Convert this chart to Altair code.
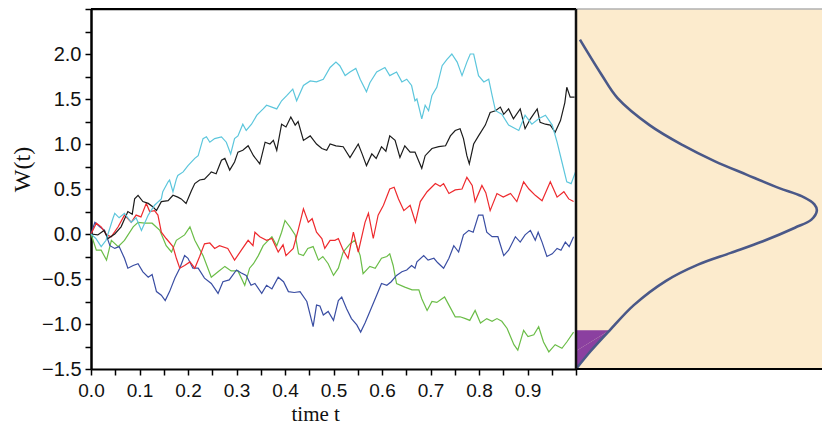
import altair as alt
import pandas as pd

# ---------------- data ----------------
t_cyan = [0, 0.010, 0.021, 0.031, 0.045, 0.049, 0.058, 0.069, 0.083, 0.093, 0.104, 0.118, 0.131, 0.145, 0.148,
          0.159, 0.162, 0.169, 0.176, 0.179, 0.190, 0.200, 0.214, 0.221, 0.231, 0.238, 0.245, 0.255, 0.269, 0.279,
          0.288, 0.296, 0.303, 0.313, 0.320, 0.331, 0.342, 0.355, 0.362, 0.383, 0.393, 0.404, 0.416, 0.424, 0.438,
          0.452, 0.465, 0.479, 0.493, 0.505, 0.513, 0.524, 0.534, 0.546, 0.555, 0.568, 0.575, 0.589, 0.606, 0.616,
          0.630, 0.641, 0.651, 0.661, 0.668, 0.672, 0.682, 0.689, 0.696, 0.703, 0.713, 0.724, 0.734, 0.744, 0.755,
          0.765, 0.775, 0.782, 0.789, 0.799, 0.810, 0.820, 0.827, 0.834, 0.847, 0.861, 0.882, 0.895, 0.909, 0.923,
          0.937, 0.951, 0.961, 0.971, 0.981, 0.990, 0.999]
w_cyan = [0, -0.05, -0.14, -0.07, 0.17, 0.23, 0.18, 0.23, 0.13, 0.18, 0.04, 0.21, 0.32, 0.39, 0.47,
          0.58, 0.60, 0.47, 0.61, 0.65, 0.69, 0.76, 0.84, 0.87, 1.06, 1.08, 1.02, 1.06, 1.08, 1.02,
          0.89, 1.06, 1.09, 1.22, 1.15, 1.22, 1.32, 1.39, 1.43, 1.39, 1.48, 1.54, 1.61, 1.48, 1.65,
          1.70, 1.69, 1.72, 1.85, 1.91, 1.87, 1.76, 1.80, 1.84, 1.72, 1.58, 1.68, 1.80, 1.85, 1.76,
          1.80, 1.69, 1.72, 1.65, 1.48, 1.50, 1.28, 1.43, 1.37, 1.54, 1.63, 1.87, 1.94, 2.00, 1.91,
          1.76, 1.91, 2.00, 2.00, 1.76, 1.69, 1.72, 1.54, 1.37, 1.33, 1.21, 1.15, 1.32, 1.22, 1.28,
          1.32, 1.21, 1.02, 0.80, 0.58, 0.56, 0.69]

t_black = [0, 0.014, 0.027, 0.035, 0.049, 0.062, 0.076, 0.085, 0.090, 0.097, 0.107, 0.118, 0.128, 0.135, 0.145,
           0.159, 0.169, 0.179, 0.186, 0.196, 0.207, 0.214, 0.224, 0.234, 0.245, 0.248, 0.258, 0.269, 0.276, 0.286,
           0.296, 0.303, 0.313, 0.324, 0.335, 0.348, 0.359, 0.369, 0.376, 0.383, 0.393, 0.402, 0.412, 0.421, 0.427,
           0.438, 0.452, 0.465, 0.476, 0.486, 0.493, 0.505, 0.520, 0.534, 0.551, 0.559, 0.568, 0.579, 0.588, 0.599,
           0.608, 0.616, 0.627, 0.637, 0.647, 0.658, 0.668, 0.682, 0.689, 0.703, 0.717, 0.731, 0.741, 0.751, 0.761,
           0.768, 0.775, 0.780, 0.789, 0.799, 0.813, 0.823, 0.834, 0.844, 0.851, 0.861, 0.871, 0.885, 0.895, 0.906,
           0.920, 0.926, 0.937, 0.947, 0.957, 0.968, 0.977, 0.981, 0.988, 0.997]
w_black = [0, -0.01, 0.04, -0.05, 0.00, 0.08, 0.25, 0.22, 0.39, 0.43, 0.36, 0.34, 0.30, 0.26, 0.36,
           0.37, 0.43, 0.41, 0.39, 0.34, 0.48, 0.56, 0.60, 0.61, 0.67, 0.69, 0.67, 0.82, 0.84, 0.71,
           0.80, 0.91, 0.93, 0.98, 0.87, 0.78, 1.02, 1.00, 1.04, 0.93, 1.22, 1.19, 1.30, 1.21, 1.25,
           1.04, 1.09, 1.00, 0.95, 0.93, 1.00, 0.98, 0.97, 0.85, 1.00, 0.89, 0.76, 0.89, 0.84, 0.97,
           0.92, 1.09, 1.04, 0.85, 0.98, 0.91, 0.91, 0.73, 0.87, 0.95, 0.97, 0.98, 1.09, 1.15, 1.17,
           1.06, 0.87, 0.78, 1.00, 1.09, 1.21, 1.35, 1.37, 1.41, 1.33, 1.39, 1.28, 1.39, 1.17, 1.28,
           1.39, 1.24, 1.22, 1.21, 1.13, 1.26, 1.46, 1.63, 1.52, 1.52]

t_red = [0, 0.011, 0.021, 0.032, 0.042, 0.056, 0.069, 0.083, 0.093, 0.103, 0.114, 0.121, 0.131, 0.138, 0.145,
         0.155, 0.169, 0.176, 0.183, 0.193, 0.204, 0.214, 0.224, 0.234, 0.245, 0.255, 0.265, 0.282, 0.296, 0.310,
         0.324, 0.334, 0.338, 0.348, 0.362, 0.373, 0.386, 0.396, 0.402, 0.417, 0.427, 0.438, 0.448, 0.456, 0.465,
         0.476, 0.482, 0.493, 0.503, 0.510, 0.520, 0.530, 0.541, 0.551, 0.565, 0.572, 0.582, 0.592, 0.603, 0.616,
         0.625, 0.634, 0.645, 0.658, 0.669, 0.679, 0.693, 0.710, 0.720, 0.727, 0.738, 0.751, 0.765, 0.775, 0.786,
         0.792, 0.806, 0.814, 0.823, 0.837, 0.850, 0.865, 0.878, 0.892, 0.903, 0.916, 0.930, 0.947, 0.961, 0.975,
         0.985, 0.995]
w_red = [0, 0.12, 0.08, -0.01, -0.03, 0.08, 0.21, 0.13, 0.21, 0.19, 0.34, 0.25, 0.26, 0.21, 0.02,
         -0.05, -0.14, -0.27, -0.38, -0.35, -0.31, -0.38, -0.25, -0.11, -0.10, -0.16, -0.13, -0.16, -0.29, -0.18,
         -0.07, -0.13, 0.02, -0.03, -0.07, -0.05, -0.20, -0.12, -0.24, -0.16, 0.04, 0.28, 0.13, 0.17, 0.02,
         -0.05, -0.16, -0.07, -0.07, -0.05, -0.18, -0.27, 0.02, -0.20, 0.13, 0.23, -0.05, 0.21, 0.32, 0.50,
         0.52, 0.39, 0.26, 0.32, 0.13, 0.36, 0.47, 0.56, 0.53, 0.56, 0.45, 0.49, 0.50, 0.63, 0.54,
         0.36, 0.54, 0.46, 0.26, 0.45, 0.41, 0.45, 0.36, 0.58, 0.50, 0.43, 0.37, 0.58, 0.41, 0.47,
         0.39, 0.36]

t_green = [0, 0.011, 0.021, 0.032, 0.042, 0.056, 0.069, 0.087, 0.097, 0.111, 0.126, 0.142, 0.155, 0.166, 0.176,
           0.193, 0.204, 0.214, 0.231, 0.248, 0.262, 0.276, 0.289, 0.303, 0.317, 0.327, 0.335, 0.345, 0.355, 0.373,
           0.383, 0.393, 0.400, 0.410, 0.421, 0.428, 0.438, 0.447, 0.458, 0.469, 0.478, 0.489, 0.500, 0.510, 0.520,
           0.534, 0.544, 0.555, 0.561, 0.575, 0.586, 0.599, 0.610, 0.616, 0.623, 0.630, 0.647, 0.662, 0.676, 0.682,
           0.693, 0.703, 0.713, 0.729, 0.738, 0.751, 0.761, 0.772, 0.781, 0.792, 0.803, 0.816, 0.827, 0.837, 0.847,
           0.858, 0.872, 0.880, 0.892, 0.901, 0.913, 0.923, 0.933, 0.944, 0.957, 0.971, 0.981, 0.995]
w_green = [0, -0.18, -0.18, -0.29, -0.07, -0.14, -0.07, 0.08, 0.13, 0.12, 0.12, 0.04, -0.13, -0.20, -0.07,
           -0.01, 0.08, -0.07, -0.24, -0.48, -0.42, -0.36, -0.41, -0.41, -0.57, -0.38, -0.33, -0.24, -0.13, -0.03,
           -0.13, 0.02, 0.15, 0.08, -0.01, -0.22, -0.24, -0.16, -0.14, -0.29, -0.25, -0.33, -0.46, -0.38, -0.20,
           -0.11, -0.07, -0.24, -0.44, -0.36, -0.38, -0.27, -0.25, -0.22, -0.35, -0.55, -0.59, -0.62, -0.62, -0.72,
           -0.85, -0.75, -0.76, -0.70, -0.79, -0.92, -0.92, -0.94, -0.96, -0.85, -0.99, -0.94, -0.97, -0.94, -0.97,
           -1.05, -1.23, -1.29, -1.07, -1.14, -1.12, -1.03, -1.20, -1.31, -1.23, -1.27, -1.20, -1.09]

t_blue = [0, 0.008, 0.018, 0.028, 0.039, 0.049, 0.058, 0.069, 0.076, 0.087, 0.097, 0.107, 0.118, 0.126, 0.135,
          0.145, 0.153, 0.162, 0.173, 0.183, 0.193, 0.200, 0.210, 0.221, 0.234, 0.248, 0.262, 0.272, 0.285, 0.300,
          0.309, 0.320, 0.330, 0.338, 0.352, 0.362, 0.373, 0.386, 0.397, 0.407, 0.419, 0.431, 0.445, 0.458, 0.465,
          0.472, 0.479, 0.489, 0.500, 0.510, 0.517, 0.527, 0.537, 0.548, 0.556, 0.565, 0.575, 0.589, 0.599, 0.610,
          0.619, 0.630, 0.641, 0.651, 0.661, 0.668, 0.672, 0.686, 0.695, 0.707, 0.715, 0.727, 0.738, 0.748, 0.758,
          0.768, 0.779, 0.788, 0.799, 0.808, 0.816, 0.827, 0.839, 0.851, 0.861, 0.875, 0.885, 0.895, 0.906, 0.916,
          0.922, 0.930, 0.940, 0.951, 0.961, 0.969, 0.978, 0.986, 0.995]
w_blue = [0, 0.13, 0.08, 0.04, -0.13, -0.16, -0.14, -0.27, -0.38, -0.35, -0.33, -0.42, -0.48, -0.45, -0.64,
          -0.68, -0.74, -0.64, -0.49, -0.38, -0.24, -0.27, -0.38, -0.38, -0.49, -0.55, -0.66, -0.53, -0.51, -0.40,
          -0.43, -0.46, -0.57, -0.55, -0.66, -0.57, -0.61, -0.48, -0.53, -0.64, -0.65, -0.64, -0.75, -1.03, -0.79,
          -0.80, -0.90, -0.86, -0.96, -0.74, -0.70, -0.83, -0.94, -1.01, -1.09, -0.99, -0.86, -0.68, -0.55, -0.57,
          -0.53, -0.46, -0.42, -0.40, -0.35, -0.38, -0.31, -0.24, -0.29, -0.27, -0.32, -0.38, -0.27, -0.13, -0.20,
          -0.01, 0.04, 0.02, 0.21, 0.21, 0.02, -0.03, -0.03, -0.24, -0.18, -0.03, -0.09, -0.01, 0.04, -0.07,
          0.02, -0.09, -0.25, -0.22, -0.16, -0.18, -0.09, -0.14, -0.03]

# sideways density sketch on the right (W value, relative density)
dens_w = [2.16, 1.77, 1.51, 1.21, 0.99, 0.81, 0.66, 0.51, 0.42, 0.33, 0.26, 0.16, 0.07, -0.08, -0.21,
          -0.34, -0.52, -0.79, -1.07, -1.30, -1.50]
dens_d = [0.016, 0.104, 0.169, 0.299, 0.432, 0.563, 0.693, 0.826, 0.917, 0.969, 0.979, 0.957, 0.890, 0.760,
          0.629, 0.496, 0.366, 0.235, 0.137, 0.060, 0.0]

x_ticks = [round(i * 0.05, 2) for i in range(21)]
y_ticks = [round(-1.5 + i * 0.25, 2) for i in range(17)]

series = [("green", t_green, w_green), ("blue", t_blue, w_blue), ("red", t_red, w_red),
          ("black", t_black, w_black), ("cyan", t_cyan, w_cyan)]
colors = {"green": "#6bbd48", "blue": "#3a4ea3", "red": "#ee2a2e", "black": "#1c1c1c", "cyan": "#5cc6dc"}

rows = []
for name, ts, ws in series:
    for i, (t, w) in enumerate(zip(ts, ws)):
        rows.append({"series": name, "t": t, "w": w, "i": i})
paths = pd.DataFrame(rows)
dens = pd.DataFrame({"w": dens_w, "d": dens_d, "i": list(range(len(dens_w)))})
one = pd.DataFrame({"k": [0]})

# ---------------- scales ----------------
PLOT_W = 485
PANEL_W = 246
PLOT_H = 360
y_scale = alt.Scale(domain=[-1.5, 2.5], nice=False, zero=False)
x_left = alt.Scale(domain=[0, 1], range=[0, PLOT_W], nice=False, zero=False)
x_right = alt.Scale(domain=[0, 1], range=[PLOT_W, PLOT_W + PANEL_W], nice=False, zero=False)

x_axis = alt.Axis(
    values=x_ticks,
    labelExpr="(abs(datum.value*10 - round(datum.value*10)) < 0.001 && datum.value < 0.99) ? format(datum.value, '.1f') : ''",
    title="time t", titleFont="Liberation Serif", titleFontSize=21, titleFontWeight="normal",
    titleColor="#111", titleX=200, titleY=55, titleBaseline="bottom", titleAnchor="start", titleAlign="left",
    labelFont="Liberation Sans", labelFontSize=19, labelColor="#111", labelPadding=6,
    labelOverlap=False, labelFlush=False, labelBound=False,
    tickSize=6, tickColor="#000", tickWidth=1.5, domainColor="#000", domainWidth=2, grid=False,
)
y_axis = alt.Axis(
    values=y_ticks,
    labelExpr="(abs(datum.value*2 - round(datum.value*2)) < 0.001 && datum.value < 2.4) ? format(datum.value, '.1f') : ''",
    title="W(t)", titleFont="Liberation Serif", titleFontSize=24, titleFontWeight="normal",
    titleColor="#111", titleX=-57, titleY=160, titleAngle=-90, titleBaseline="bottom", titleAlign="center",
    labelFont="Liberation Sans", labelFontSize=20, labelColor="#111", labelPadding=4,
    labelOverlap=False, labelFlush=False, labelBound=False,
    tickSize=6, tickColor="#000", tickWidth=1.5, domainColor="#000", domainWidth=2.5, grid=False,
)

lines = alt.Chart(paths).mark_line(strokeWidth=1.2).encode(
    x=alt.X("t:Q", scale=x_left, axis=x_axis),
    y=alt.Y("w:Q", scale=y_scale, axis=y_axis),
    color=alt.Color("series:N", scale=alt.Scale(domain=list(colors.keys()), range=list(colors.values())),
                    legend=None),
    detail="series:N",
    order="i:Q",
)
top_frame = alt.Chart(one).mark_rule(color="#000", strokeWidth=2.5).encode(
    x=alt.datum(0, scale=x_left, axis=x_axis), x2=alt.datum(1), y=alt.datum(2.5, scale=y_scale, axis=y_axis))
right_frame = alt.Chart(one).mark_rule(color="#111", strokeWidth=2.5).encode(
    x=alt.datum(1, scale=x_left, axis=x_axis), y=alt.datum(-1.5, scale=y_scale, axis=y_axis), y2=alt.datum(2.5))
left = alt.layer(lines, top_frame, right_frame)

bg = alt.Chart(one).mark_rect(color="#fcebcd").encode(
    x=alt.datum(0, scale=x_right, axis=None), x2=alt.datum(1),
    y=alt.datum(-1.5, scale=y_scale, axis=y_axis), y2=alt.datum(2.5))
tail = alt.Chart(dens).transform_filter("datum.w <= -1.06").mark_area(
    orient="horizontal", color="#8b40a0", opacity=1).encode(
    x=alt.X("d:Q", scale=x_right, axis=None),
    y=alt.Y("w:Q", scale=y_scale, axis=y_axis),
    order="i:Q")
curve = alt.Chart(dens).mark_line(color="#4a5888", strokeWidth=2.6, interpolate="catmull-rom").encode(
    x=alt.X("d:Q", scale=x_right, axis=None),
    y=alt.Y("w:Q", scale=y_scale, axis=y_axis),
    order="i:Q")
panel_top = alt.Chart(one).mark_rule(color="#b0b0b0", strokeWidth=1.5).encode(
    x=alt.datum(0, scale=x_right, axis=None), x2=alt.datum(1), y=alt.datum(2.5, scale=y_scale, axis=y_axis))
panel_bottom = alt.Chart(one).mark_rule(color="#000", strokeWidth=2).encode(
    x=alt.datum(0, scale=x_right, axis=None), x2=alt.datum(1), y=alt.datum(-1.5, scale=y_scale, axis=y_axis))
right = alt.layer(bg, tail, curve, panel_top, panel_bottom)

chart = alt.layer(right, left).resolve_scale(x="independent").properties(
    width=PLOT_W + PANEL_W, height=PLOT_H,
    autosize=alt.AutoSizeParams(type="none"),
    padding={"left": 83, "top": 1, "right": 0, "bottom": 55},
).configure_view(stroke=None).configure(background="white")

chart.save("out.html", embed_options={"renderer": "svg", "actions": False})
